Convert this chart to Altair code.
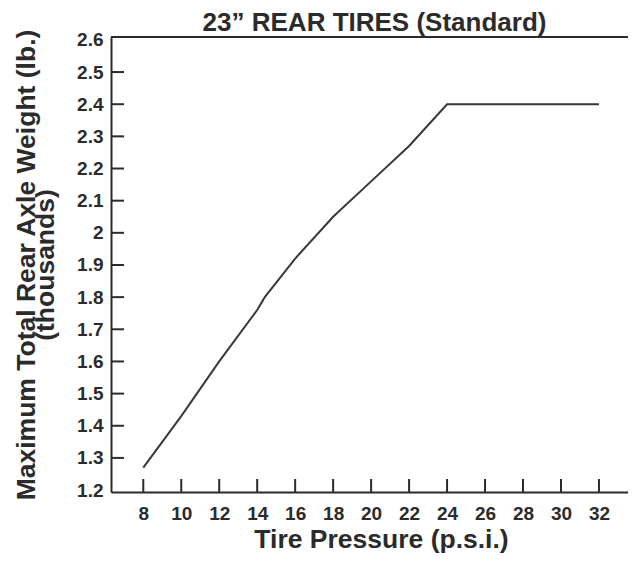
import altair as alt
import pandas as pd

# ---- data ----
pressure = [8, 10, 12, 14, 14.4, 16, 18, 20, 22, 24, 26, 28, 30, 32]
weight = [1.27, 1.43, 1.6, 1.76, 1.8, 1.92, 2.05, 2.16, 2.27, 2.4, 2.4, 2.4, 2.4, 2.4]

x_tick_values = [8, 10, 12, 14, 16, 18, 20, 22, 24, 26, 28, 30, 32]
y_tick_values = [1.3, 1.4, 1.5, 1.6, 1.7, 1.8, 1.9, 2, 2.1, 2.2, 2.3, 2.4, 2.5]
y_label_count = 15  # labels 1.2 ... 2.6 every 0.1

chart_title = "23\u201d REAR TIRES (Standard)"
x_title = "Tire Pressure (p.s.i.)"
y_title = ["Maximum Total Rear Axle Weight (lb.)", "(thousands)"]

X_DOMAIN = [6.3, 33.53]
Y_DOMAIN = [1.194, 2.609]

INK = "#2b2b2b"
FONT = "Liberation Sans"

line_df = pd.DataFrame({"pressure": pressure, "weight": weight})
xt_df = pd.DataFrame({"p": x_tick_values, "base": [Y_DOMAIN[0]] * len(x_tick_values)})
yt_df = pd.DataFrame({"w": y_tick_values, "base": [X_DOMAIN[0]] * len(y_tick_values)})
frame_df = pd.DataFrame({"x0": [X_DOMAIN[0]], "x1": [X_DOMAIN[1]], "top": [Y_DOMAIN[1]]})

xscale = alt.Scale(domain=X_DOMAIN, nice=False, zero=False)
yscale = alt.Scale(domain=Y_DOMAIN, nice=False, zero=False)

line = alt.Chart(line_df).mark_line(color="#383838", strokeWidth=2).encode(
    x=alt.X(
        "pressure:Q",
        scale=xscale,
        axis=alt.Axis(title=x_title, labelPadding=12, titlePadding=3,
                      titleX=270, labelFlush=False, titleFontSize=26.5),
    ),
    y=alt.Y(
        "weight:Q",
        scale=yscale,
        axis=alt.Axis(title=y_title, tickCount=y_label_count, labelPadding=8,
                      titlePadding=17, titleFontSize=26.5, titleLineHeight=19),
    ),
)

# inward ticks on the bottom axis
x_ticks = alt.Chart(xt_df).mark_rule(color=INK, strokeWidth=2, y2Offset=-13).encode(
    x=alt.X("p:Q", scale=xscale),
    y=alt.Y("base:Q", scale=yscale),
    y2="base:Q",
)

# inward ticks on the left axis
y_ticks = alt.Chart(yt_df).mark_rule(color=INK, strokeWidth=2, x2Offset=13).encode(
    y=alt.Y("w:Q", scale=yscale),
    x=alt.X("base:Q", scale=xscale),
    x2="base:Q",
)

# dark top frame line
top_frame = alt.Chart(frame_df).mark_rule(color=INK, strokeWidth=2).encode(
    x=alt.X("x0:Q", scale=xscale),
    x2="x1:Q",
    y=alt.Y("top:Q", scale=yscale),
)

chart = (
    alt.layer(line, x_ticks, y_ticks, top_frame)
    .properties(
        width=517,
        height=455,
        background="white",
        title=alt.TitleParams(
            chart_title,
            fontSize=26,
            font=FONT,
            fontWeight="bold",
            color=INK,
            offset=3,
            dy=10,
            dx=5,
        ),
        autosize=alt.AutoSizeParams(type="none"),
        padding={"left": 103, "top": 29, "right": 0, "bottom": 61},
    )
    .configure_axis(
        ticks=False,
        grid=False,
        domainColor=INK,
        domainWidth=2,
        labelFont=FONT,
        labelFontSize=19,
        labelFontWeight="bold",
        labelColor=INK,
        labelOverlap=False,
        titleFont=FONT,
        titleFontSize=25,
        titleFontWeight="bold",
        titleColor=INK,
    )
    .configure_axisY(format="~g")
    .configure_view(stroke="#c8c8c8", strokeWidth=1)
)

chart.save("out.html", embed_options={"renderer": "svg", "actions": False})
